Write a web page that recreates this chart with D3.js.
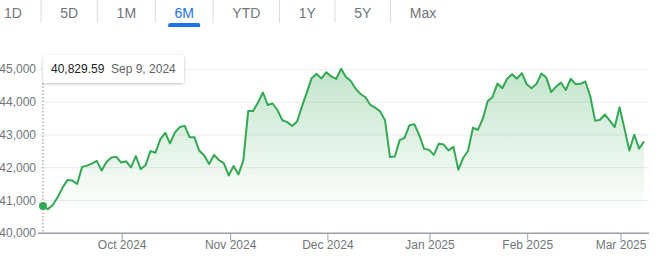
<!DOCTYPE html>
<html>
<head>
<meta charset="utf-8">
<script src="https://cdn.jsdelivr.net/npm/d3@7"></script>
<style>
  body { margin: 0; background: #fff; font-family: "Liberation Sans", Arial, sans-serif; }
  svg { display: block; }
</style>
</head>
<body>
<div id="chart"></div>
<script>
// range tabs
var tabs = ["1D", "5D", "1M", "6M", "YTD", "1Y", "5Y", "Max"];
var activeTab = "6M";

// daily closes, Sep 9 2024 .. Mar 7 2025 (one per trading day)
var closes = [
  40829.59, 40736.96, 40861.71, 41096.77, 41393.78, 41622.08, 41606.18, 41503.10,
  42025.19, 42063.36, 42124.65, 42208.22, 41914.75, 42175.11, 42313.00, 42330.15,
  42156.97, 42196.52, 42011.59, 42352.75, 41954.24, 42080.37, 42512.00, 42454.12,
  42863.86, 43065.22, 42740.42, 43077.70, 43239.05, 43275.91, 42931.60, 42924.89,
  42514.95, 42374.36, 42114.40, 42387.57, 42233.05, 42141.54, 41763.46,
  42052.19, 41794.60, 42221.88, 43729.93, 43729.34, 43988.99, 44293.13, 43910.98,
  43958.19, 43750.86, 43444.99, 43389.60, 43268.94, 43408.47, 43870.35, 44296.51,
  44736.57, 44860.31, 44722.06, 44910.65,
  44782.00, 44705.53, 45014.04, 44765.71, 44642.52, 44401.93, 44247.83, 44148.56,
  43914.12, 43828.06, 43717.48, 43449.90, 42326.87, 42342.24, 42840.26, 42906.95,
  43297.03, 43325.80, 42992.21, 42573.73, 42544.22,
  42392.27, 42732.13, 42706.56, 42528.36, 42635.20, 41938.45, 42297.12, 42518.28,
  43221.55, 43153.13, 43487.83, 44025.81, 44156.73, 44565.07, 44424.25, 44713.58,
  44850.35, 44713.52, 44882.13, 44544.66,
  44421.91, 44556.04, 44873.28, 44747.63, 44303.40, 44470.41, 44593.65, 44368.56,
  44711.43, 44546.08, 44556.34, 44627.59, 44176.65, 43428.02, 43461.21, 43621.16,
  43433.12, 43239.50, 43840.91,
  43191.24, 42520.99, 43006.59, 42579.08, 42801.72
];
var firstDate = "Sep 9, 2024";

// month ticks (position in trading-day index)
var monthLabels = ["Oct 2024", "Nov 2024", "Dec 2024", "Jan 2025", "Feb 2025", "Mar 2025"];
var monthIdx = [16.1, 38.3, 58.2, 79.1, 99.1, 118.2];

var yTicks = [40000, 41000, 42000, 43000, 44000, 45000];

var W = 663, H = 263;
var green = "#34a853";

var svg = d3.select("#chart").append("svg")
  .attr("width", W).attr("height", H);

// ---- tabs ----
var tabG = svg.append("g");
var cx = 4;
tabs.forEach(function(t, i) {
  var txt = tabG.append("text")
    .attr("x", cx).attr("y", 17.5)
    .attr("font-size", 14)
    .attr("fill", t == activeTab ? "#1a73e8" : "#70757a")
    .text(t);
  var w = txt.node().getComputedTextLength();
  if (t == activeTab) {
    tabG.append("path")
      .attr("d", "M" + (cx + w / 2 - 16) + ",27 v-2 a2,2 0 0 1 2,-2 h28 a2,2 0 0 1 2,2 v2 z")
      .attr("fill", "#1a73e8");
  }
  var sep = cx + w + 19.2;
  if (i < tabs.length - 1) {
    tabG.append("line")
      .attr("x1", sep).attr("x2", sep).attr("y1", 0).attr("y2", 23)
      .attr("stroke", "#dadce0");
  }
  cx = sep + 19.2;
});

// ---- scales ----
var x = d3.scaleLinear().domain([0, closes.length - 1]).range([43, 644]);
var y = d3.scaleLinear().domain([40000, 45000]).range([233.3, 69.3]);

// gridlines
svg.append("g").selectAll("line").data(yTicks.slice(1)).enter().append("line")
  .attr("x1", 40).attr("x2", 648)
  .attr("y1", function(d) { return y(d); })
  .attr("y2", function(d) { return y(d); })
  .attr("stroke", "#ebebeb");

// y labels
svg.append("g").selectAll("text").data(yTicks).enter().append("text")
  .attr("x", 36)
  .attr("y", function(d) { return y(d) + 4; })
  .attr("text-anchor", "end")
  .attr("font-size", 12)
  .attr("fill", "#70757a")
  .text(function(d) { return d3.format(",")(d); });

// gradient
var grad = svg.append("defs").append("linearGradient")
  .attr("id", "fillGrad")
  .attr("gradientUnits", "userSpaceOnUse")
  .attr("x1", 0).attr("x2", 0).attr("y1", y(45000)).attr("y2", y(40600));
grad.append("stop").attr("offset", 0).attr("stop-color", green).attr("stop-opacity", 0.3);
grad.append("stop").attr("offset", 1).attr("stop-color", green).attr("stop-opacity", 0);

var area = d3.area()
  .x(function(d, i) { return x(i); })
  .y0(y(40000))
  .y1(function(d) { return y(d); });

svg.append("path").datum(closes)
  .attr("d", area)
  .attr("fill", "url(#fillGrad)");

// x axis
var xAxis = d3.axisBottom(x)
  .tickValues(monthIdx)
  .tickSize(7)
  .tickFormat(function(d, i) { return monthLabels[i]; });

var axG = svg.append("g")
  .attr("transform", "translate(0," + y(40000) + ")")
  .call(xAxis);
axG.select(".domain").remove();
axG.append("line").attr("x1", 38).attr("x2", 649)
  .attr("stroke", "#9aa0a6").attr("stroke-width", 1.5);
axG.selectAll(".tick line").attr("stroke", "#9aa0a6");
axG.selectAll(".tick text")
  .attr("font-size", 12)
  .attr("font-family", "Liberation Sans, Arial, sans-serif")
  .attr("fill", "#70757a")
  .attr("dy", "0.5em");

// line
var line = d3.line()
  .x(function(d, i) { return x(i); })
  .y(function(d) { return y(d); });

svg.append("path").datum(closes)
  .attr("d", line)
  .attr("fill", "none")
  .attr("stroke", green)
  .attr("stroke-width", 2)
  .attr("stroke-linejoin", "round");

// hover marker at first point
svg.append("line")
  .attr("x1", x(0)).attr("x2", x(0))
  .attr("y1", 83).attr("y2", y(40000))
  .attr("stroke", "#80868b")
  .attr("stroke-dasharray", "1.5,2");

svg.append("circle")
  .attr("cx", x(0)).attr("cy", y(closes[0]))
  .attr("r", 4)
  .attr("fill", green);

// tooltip
var filt = svg.select("defs").append("filter").attr("id", "shadow")
  .attr("x", "-10%").attr("y", "-30%").attr("width", "120%").attr("height", "170%");
filt.append("feDropShadow").attr("dx", 0).attr("dy", 1).attr("stdDeviation", 1.5)
  .attr("flood-color", "#000").attr("flood-opacity", 0.25);

svg.append("rect")
  .attr("x", x(0)).attr("y", 55).attr("width", 141).attr("height", 28)
  .attr("rx", 2)
  .attr("fill", "#fff")
  .attr("filter", "url(#shadow)");

svg.append("text")
  .attr("x", x(0) + 8).attr("y", 73)
  .attr("font-size", 12).attr("fill", "#202124")
  .text(d3.format(",.2f")(closes[0]));
svg.append("text")
  .attr("x", x(0) + 68).attr("y", 73)
  .attr("font-size", 12).attr("fill", "#5f6368")
  .text(firstDate);
</script>
</body>
</html>
